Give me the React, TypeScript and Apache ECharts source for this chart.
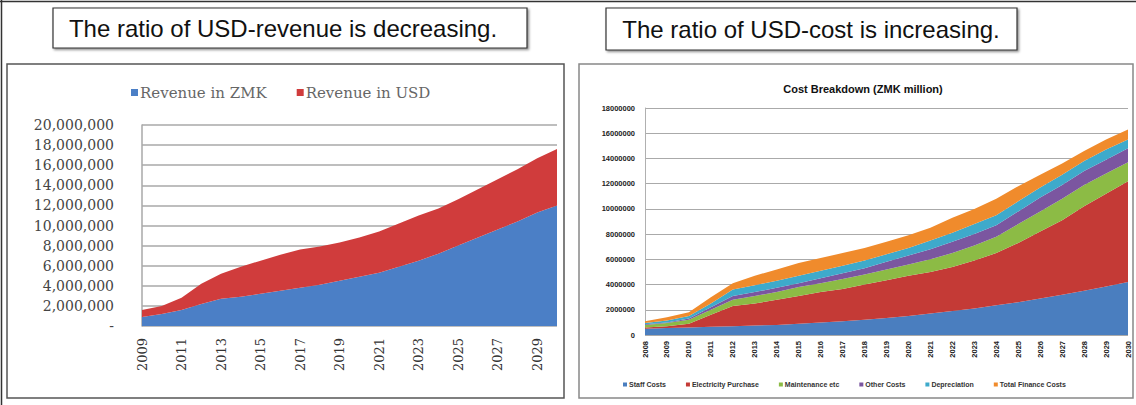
import React, { useEffect, useRef } from "react";
import * as echarts from "echarts";

// Revenue panel (2009–2030)
const revenueYears = ["2009","2010","2011","2012","2013","2014","2015","2016","2017","2018","2019","2020","2021","2022","2023","2024","2025","2026","2027","2028","2029","2030"];
const revenueZMK = [900000,1200000,1600000,2200000,2700000,2900000,3200000,3500000,3800000,4100000,4500000,4900000,5300000,5900000,6500000,7200000,8000000,8800000,9600000,10400000,11300000,12000000];
const revenueUSD = [700000,800000,1200000,2000000,2500000,3000000,3300000,3600000,3800000,3800000,3800000,3900000,4100000,4300000,4500000,4500000,4600000,4800000,5000000,5200000,5400000,5600000];

// Cost panel (2008–2030)
const costYears = ["2008","2009","2010","2011","2012","2013","2014","2015","2016","2017","2018","2019","2020","2021","2022","2023","2024","2025","2026","2027","2028","2029","2030"];
const staffCosts = [500000,550000,600000,650000,700000,750000,800000,900000,1000000,1100000,1200000,1350000,1500000,1700000,1900000,2100000,2350000,2600000,2900000,3200000,3500000,3850000,4200000];
const electricityPurchase = [100000,150000,300000,950000,1600000,1750000,2000000,2200000,2400000,2550000,2800000,3000000,3200000,3300000,3500000,3800000,4150000,4700000,5300000,5900000,6700000,7350000,8000000];
const maintenanceEtc = [200000,250000,300000,400000,500000,600000,600000,700000,700000,800000,800000,850000,900000,1000000,1100000,1200000,1300000,1500000,1600000,1700000,1700000,1600000,1500000];
const otherCosts = [50000,50000,100000,200000,300000,300000,350000,300000,400000,450000,500000,600000,700000,800000,900000,900000,900000,1000000,1100000,1100000,1100000,1100000,1100000];
const depreciation = [100000,150000,200000,300000,500000,550000,550000,600000,600000,600000,600000,600000,600000,700000,700000,800000,800000,800000,800000,800000,800000,800000,700000];
const financeCosts = [150000,250000,300000,500000,500000,750000,900000,1000000,1000000,1000000,1000000,1000000,1000000,1000000,1200000,1200000,1300000,1200000,1000000,900000,800000,800000,800000];

const revenueNames = ["Revenue in ZMK", "Revenue in USD"];
const costNames = ["Staff Costs", "Electricity Purchase", "Maintenance etc", "Other Costs", "Depreciation", "Total Finance Costs"];
const headline1 = "The ratio of USD-revenue is decreasing.";
const headline2 = "The ratio of USD-cost is increasing.";
const costTitle = "Cost Breakdown (ZMK million)";

const revColors = ["#4b7fc6", "#d03c3c"];
const costColors = ["#4a7ebf", "#c43a36", "#8cbb45", "#7b56a0", "#3eaacb", "#f08b2c"];

const serif = "DejaVu Serif";
const sans = "Liberation Sans";

function area(name: string, data: number[], color: string, stack: string, axis: number) {
  return {
    name,
    type: "line",
    stack,
    data,
    xAxisIndex: axis,
    yAxisIndex: axis,
    symbol: "none",
    lineStyle: { width: 0 },
    areaStyle: { color, opacity: 1 },
    itemStyle: { color },
  };
}

export default function App() {
  const ref = useRef<HTMLDivElement>(null);

  useEffect(() => {
    if (!ref.current) return;
    const chart = echarts.init(ref.current, undefined, { renderer: "svg" });
    const costData = [staffCosts, electricityPurchase, maintenanceEtc, otherCosts, depreciation, financeCosts];

    chart.setOption({
      animation: false,
      backgroundColor: "#ffffff",
      title: [
        {
          text: costTitle,
          left: 858,
          top: 78,
          textAlign: "center",
          textStyle: { fontFamily: sans, fontSize: 11, fontWeight: "bold", color: "#111" },
        },
      ],
      legend: [
        {
          data: revenueNames,
          left: 126,
          top: 80,
          icon: "rect",
          itemWidth: 7,
          itemHeight: 7,
          itemGap: 30,
          textStyle: { fontFamily: serif, fontSize: 15, color: "#666", padding: [0, 0, 0, -3] },
        },
        {
          data: costNames,
          left: 618,
          top: 376,
          icon: "rect",
          itemWidth: 4,
          itemHeight: 4,
          itemGap: 20,
          textStyle: { fontFamily: sans, fontSize: 7, fontWeight: "bold", color: "#333", padding: [0, 0, 0, -3] },
        },
      ],
      grid: [
        { left: 142, top: 125, width: 415, height: 201 },
        { left: 645, top: 108, width: 483, height: 227 },
      ],
      xAxis: [
        {
          gridIndex: 0,
          type: "category",
          data: revenueYears,
          boundaryGap: false,
          axisTick: { show: false },
          axisLine: { show: false },
          axisLabel: { interval: 1, rotate: 90, fontFamily: serif, fontSize: 13, color: "#333", margin: 12 },
        },
        {
          gridIndex: 1,
          type: "category",
          data: costYears,
          boundaryGap: false,
          axisTick: { show: false },
          axisLine: { show: false },
          axisLabel: { interval: 0, rotate: 90, fontFamily: sans, fontSize: 7.5, fontWeight: "bold", color: "#222", margin: 6 },
        },
      ],
      yAxis: [
        {
          gridIndex: 0,
          type: "value",
          min: 0,
          max: 20000000,
          interval: 2000000,
          axisLine: { show: true, lineStyle: { color: "#a8a8a8", width: 1.5 } },
          axisTick: { show: false },
          splitLine: { lineStyle: { color: "#a8a8a8", width: 1.5 } },
          axisLabel: {
            fontFamily: serif,
            fontSize: 14,
            color: "#444",
            margin: 28,
            formatter: (v: number) => (v === 0 ? "-" : v.toLocaleString("en-US")),
          },
        },
        {
          gridIndex: 1,
          type: "value",
          min: 0,
          max: 18000000,
          interval: 2000000,
          axisLine: { show: true, lineStyle: { color: "#b0b0b0", width: 1 } },
          axisTick: { show: false },
          splitLine: { lineStyle: { color: "#aaaaaa", width: 1.2 } },
          axisLabel: {
            fontFamily: sans,
            fontSize: 7.5,
            fontWeight: "bold",
            color: "#222",
            margin: 10,
            formatter: (v: number) => String(v),
          },
        },
      ],
      series: [
        area(revenueNames[0], revenueZMK, revColors[0], "rev", 0),
        area(revenueNames[1], revenueUSD, revColors[1], "rev", 0),
        ...costNames.map((n, i) => area(n, costData[i], costColors[i], "cost", 1)),
      ],
      graphic: [
        // outer frame
        { type: "line", shape: { x1: 0, y1: 1.5, x2: 1136, y2: 1.5 }, style: { stroke: "#333", lineWidth: 1.5 }, silent: true },
        { type: "line", shape: { x1: 1.5, y1: 0, x2: 1.5, y2: 405 }, style: { stroke: "#333", lineWidth: 1.5 }, silent: true },
        // chart frames
        { type: "rect", shape: { x: 7, y: 64, width: 557, height: 334 }, style: { fill: "none", stroke: "#555", lineWidth: 1.5 }, silent: true, z: 10 },
        { type: "rect", shape: { x: 579, y: 64, width: 554, height: 334 }, style: { fill: "none", stroke: "#888", lineWidth: 1.5 }, silent: true, z: 10 },
        // headline boxes
        { type: "rect", shape: { x: 53, y: 8, width: 474, height: 40 }, style: { fill: "#fff", stroke: "#333", lineWidth: 1.2, shadowBlur: 2, shadowOffsetX: 1.5, shadowOffsetY: 1.5, shadowColor: "rgba(0,0,0,0.45)" }, silent: true },
        { type: "text", x: 283, y: 28, style: { text: headline1, fontFamily: sans, fontSize: 24, fill: "#111", align: "center", verticalAlign: "middle" }, silent: true },
        { type: "rect", shape: { x: 606, y: 8, width: 411, height: 42 }, style: { fill: "#fff", stroke: "#333", lineWidth: 1.2, shadowBlur: 2, shadowOffsetX: 1.5, shadowOffsetY: 1.5, shadowColor: "rgba(0,0,0,0.45)" }, silent: true },
        { type: "text", x: 811, y: 29, style: { text: headline2, fontFamily: sans, fontSize: 24, fill: "#111", align: "center", verticalAlign: "middle" }, silent: true },
      ],
    });

    return () => chart.dispose();
  }, []);

  return (
    <div
      ref={ref}
      style={{ position: "absolute", left: 0, top: 0, width: 1136, height: 405 }}
    />
  );
}
